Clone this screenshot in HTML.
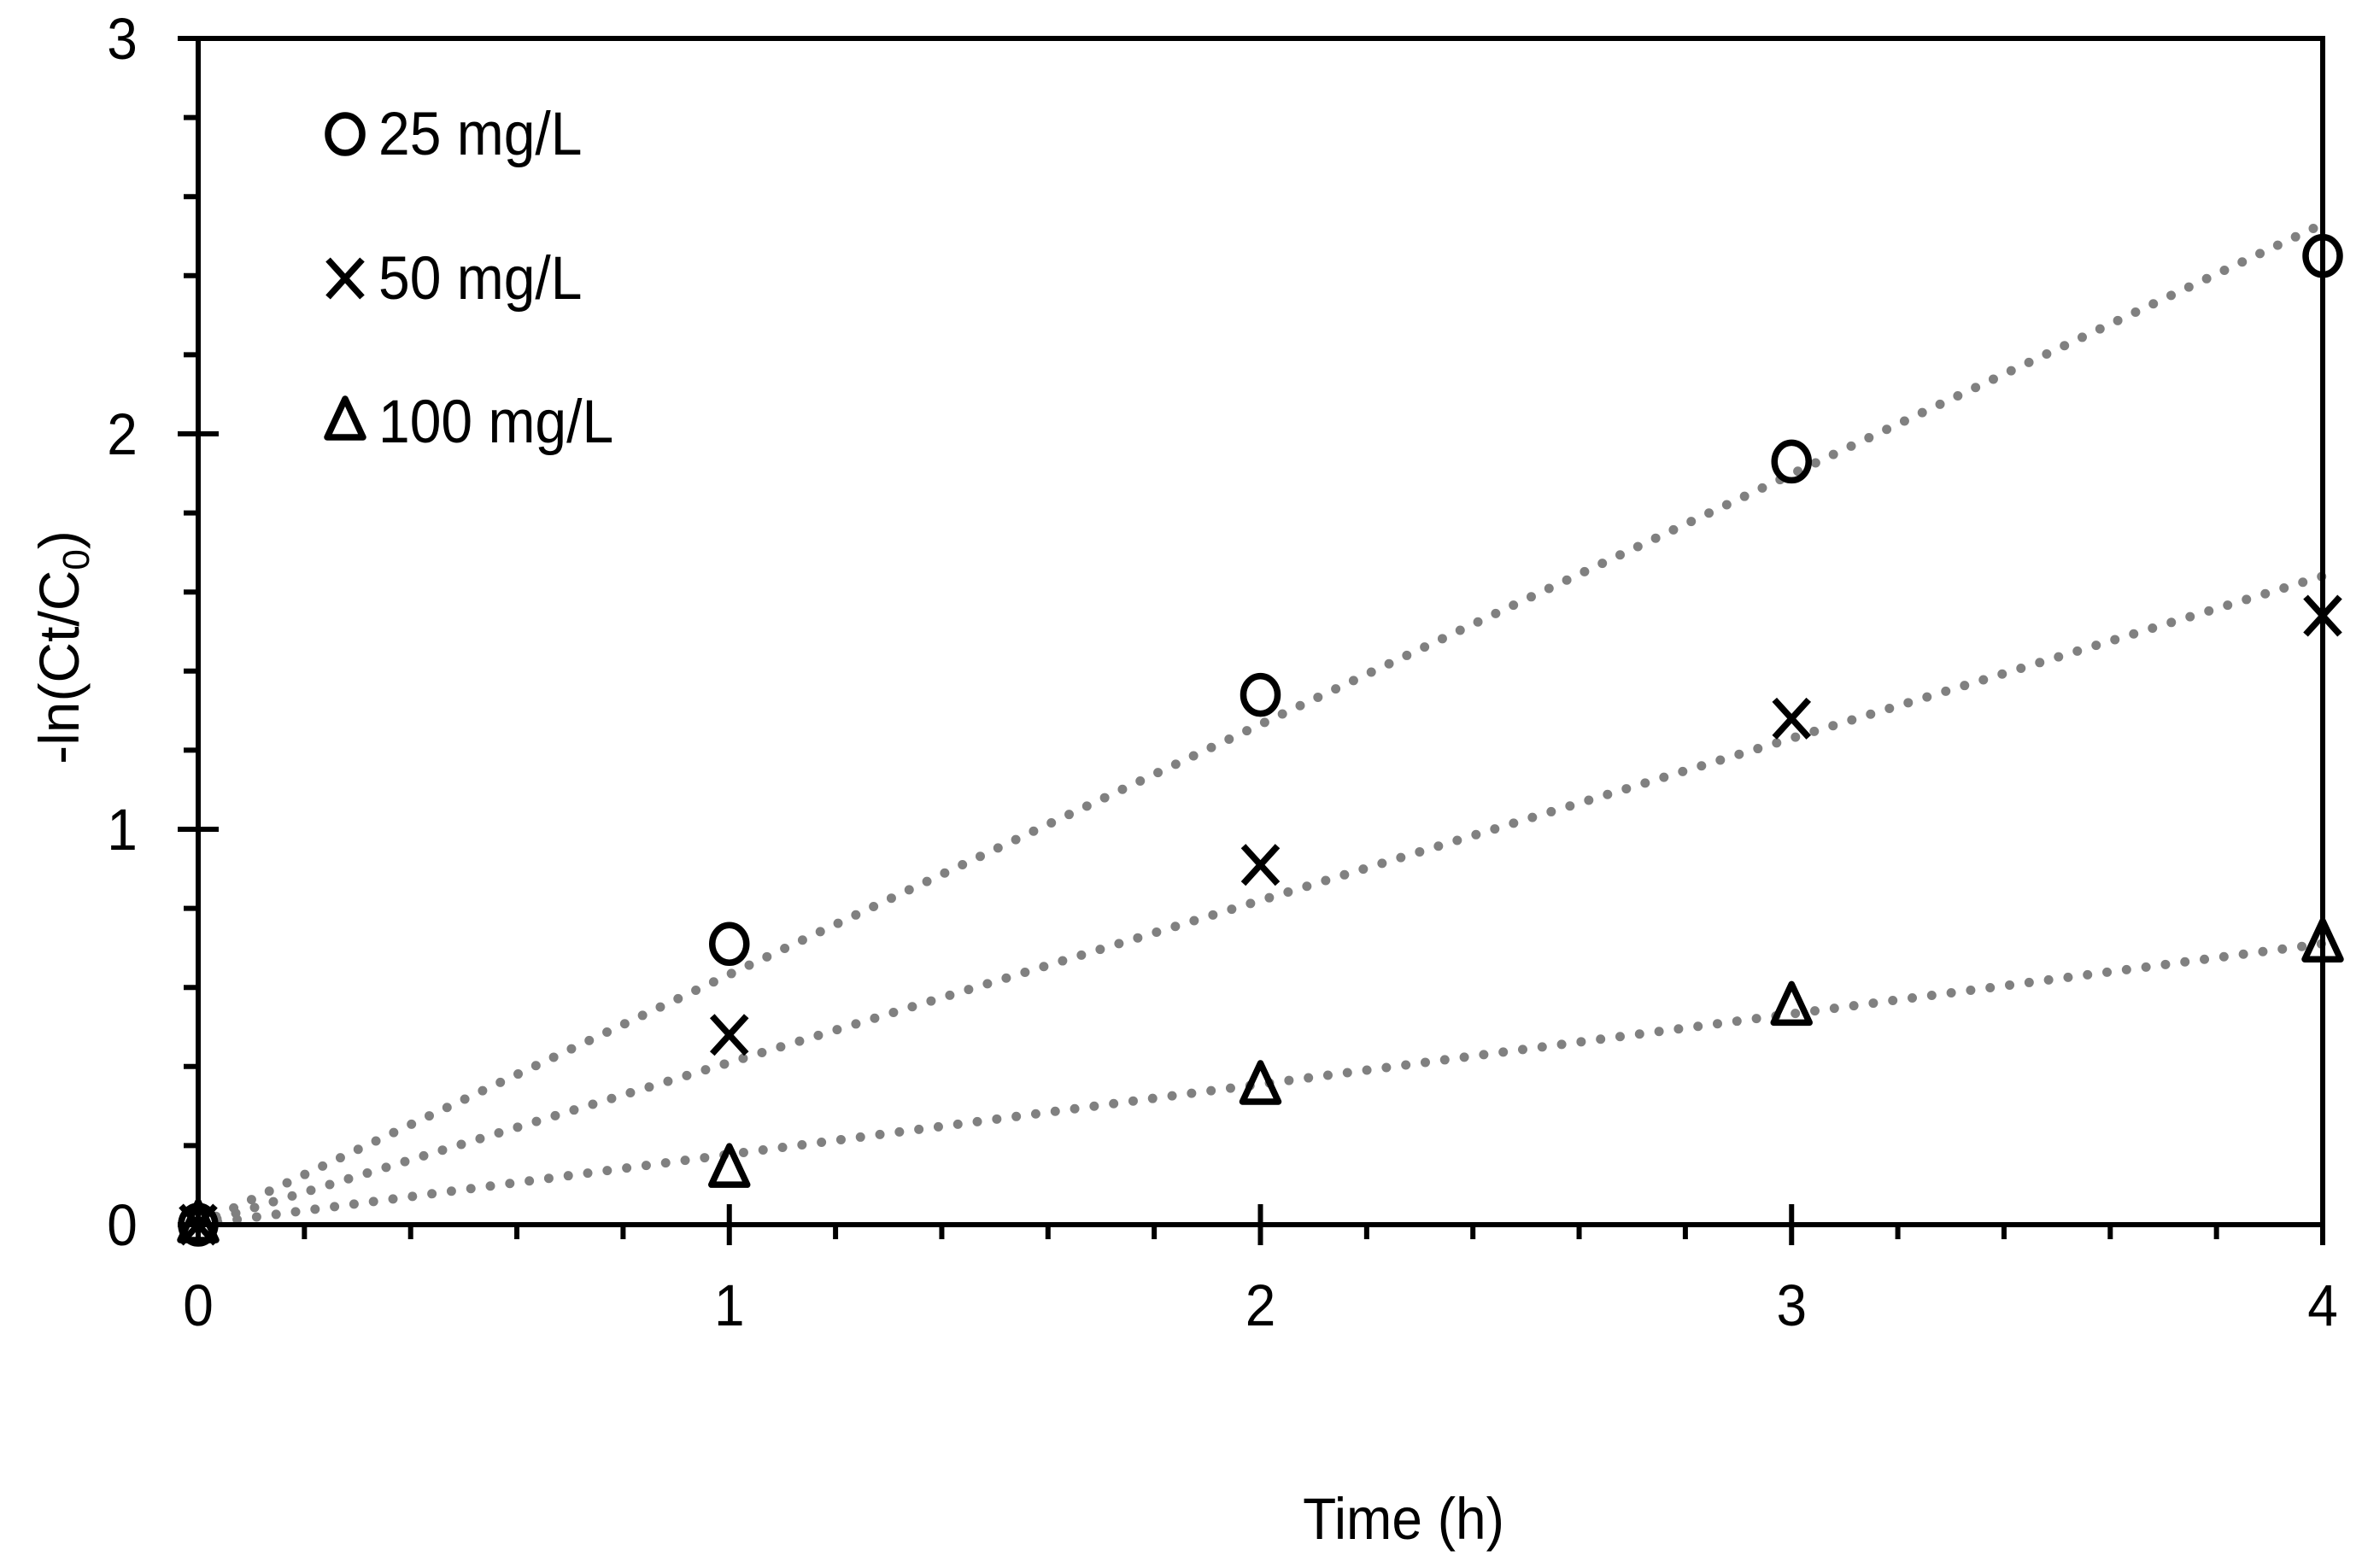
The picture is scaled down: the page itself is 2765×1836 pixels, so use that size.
<!DOCTYPE html>
<html><head><meta charset="utf-8"><style>
html,body{margin:0;padding:0;background:#fff}
svg{display:block}
text{font-family:"Liberation Sans",sans-serif;fill:#000}
</style></head><body>
<svg id="chart" width="2765" height="1836" viewBox="0 0 2765 1836" xmlns="http://www.w3.org/2000/svg">
<rect width="2765" height="1836" fill="#fff"/>
<g id="plot"></g>
<text transform="translate(1643,1802) scale(1,1.08)" font-size="64" text-anchor="middle">Time (h)</text>
<text transform="translate(92,758) rotate(-90) scale(1,1.0)" font-size="66" text-anchor="middle">-ln(Ct/C<tspan font-size="44" dy="12">0</tspan><tspan dy="-12">)</tspan></text>
</svg>
<script>
const xValues = [0, 1, 2, 3, 4];
const series25 = [0, 0.71, 1.34, 1.93, 2.45];
const series50 = [0, 0.48, 0.91, 1.28, 1.54];
const series100 = [0, 0.14, 0.35, 0.55, 0.71];
const seriesNames = ["25 mg/L", "50 mg/L", "100 mg/L"];
const xTickLabels = ["0", "1", "2", "3", "4"];
const yTickLabels = ["0", "1", "2", "3"];

const NS = "http://www.w3.org/2000/svg";
const L = 232, R = 2719, T = 45, B = 1434;
const xMin = 0, xMax = 4, yMin = 0, yMax = 3;
const sx = v => L + (v - xMin) / (xMax - xMin) * (R - L);
const sy = v => B - (v - yMin) / (yMax - yMin) * (B - T);
const g = document.getElementById('plot');
function mk(tag, attrs, parent) {
  const e = document.createElementNS(NS, tag);
  for (const k in attrs) e.setAttribute(k, attrs[k]);
  (parent || g).appendChild(e);
  return e;
}

const allSeries = [series25, series50, series100];
const markerTypes = ["circle", "cross", "triangle"];
allSeries.forEach((s, i) => {
  let sxy = 0, sxx = 0;
  s.forEach((v, j) => { sxy += xValues[j] * v; sxx += xValues[j] * xValues[j]; });
  const k = sxy / sxx;
  const ln = mk('line', {x1: sx(0), y1: sy(0), x2: sx(xMax), y2: sy(k * xMax), stroke: '#808080', 'stroke-width': 11, 'stroke-dasharray': '0 23', 'stroke-linecap': 'round'});
  
  
});

const frame = mk('rect', {x: L, y: T, width: R - L, height: B - T, fill: 'none', stroke: '#000', 'stroke-width': 6});



for (let i = 0; i <= 20; i++) {
  const v = i * 0.2, x = sx(v);
  const major = i % 5 === 0;
  const t = mk('line', {x1: x, x2: x, y1: major ? B - 24 : B, y2: major ? B + 24 : B + 17, stroke: '#000', 'stroke-width': 6});
  
  
}
xTickLabels.forEach((lab, i) => {
  const t = mk('text', {transform: `translate(${sx(xValues[i])},${B + 118}) scale(1,1.08)`, 'font-size': 64, 'text-anchor': 'middle'});
  t.textContent = lab;
  
  
});
for (let i = 0; i <= 15; i++) {
  const v = i * 0.2, y = sy(v);
  const major = i % 5 === 0;
  const t = mk('line', {x1: major ? L - 24 : L - 17, x2: major ? L + 24 : L, y1: y, y2: y, stroke: '#000', 'stroke-width': 6});
  
  
}
yTickLabels.forEach((lab, i) => {
  const t = mk('text', {transform: `translate(143,${sy(i) + 24}) scale(1,1.08)`, 'font-size': 64, 'text-anchor': 'middle'});
  t.textContent = lab;
  
  
});

function marker(type, cx, cy) {
  let e;
  if (type === 'circle') e = mk('ellipse', {cx, cy, rx: 20, ry: 22, fill: 'none', stroke: '#000', 'stroke-width': 7.5});
  else if (type === 'cross') e = mk('path', {d: `M${cx-20},${cy-22}L${cx+20},${cy+22}M${cx-20},${cy+22}L${cx+20},${cy-22}`, fill: 'none', stroke: '#000', 'stroke-width': 7.5});
  else e = mk('path', {d: `M${cx},${cy-27}L${cx+21},${cy+18}L${cx-21},${cy+18}Z`, fill: 'none', stroke: '#000', 'stroke-width': 7.5, 'stroke-linejoin': 'round'});
  return e;
}
allSeries.forEach((s, i) => {
  s.forEach((v, j) => {
    const m = marker(markerTypes[i], sx(xValues[j]), sy(v));
    
    
  });
});

const legendY = [157, 326, 494];
seriesNames.forEach((n, i) => {
  const m = marker(markerTypes[i], 404, legendY[i]);
  
  
  const t = mk('text', {transform: `translate(443,${legendY[i] + 24}) scale(1,1.08)`, 'font-size': 66});
  t.textContent = n;
  
  
});
</script>
</body></html>
